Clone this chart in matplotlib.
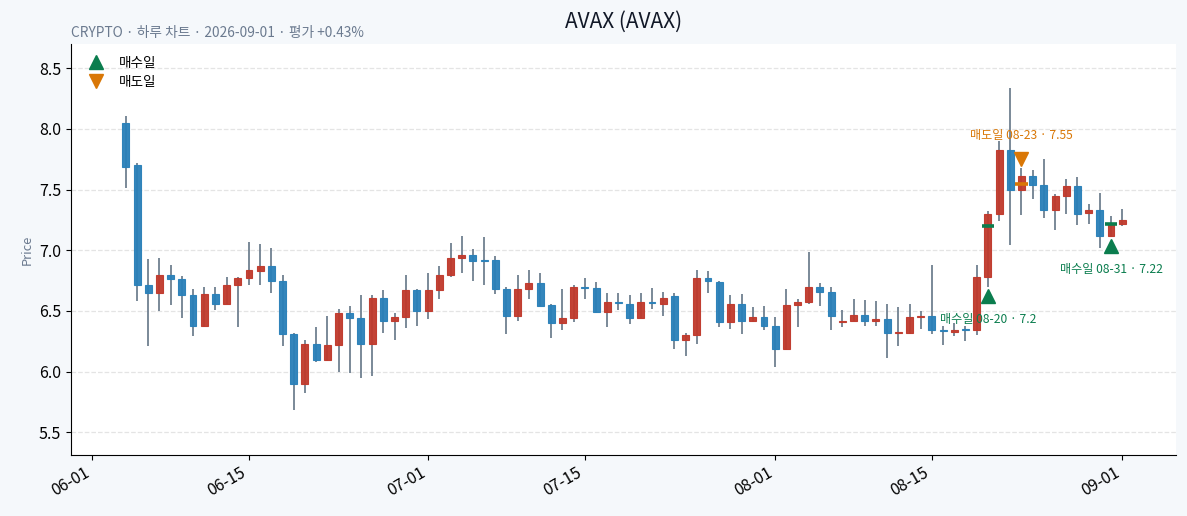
import matplotlib.pyplot as plt
import matplotlib.dates as mdates
from matplotlib.patches import Rectangle
import numpy as np
import pandas as pd

plt.rcParams['font.family'] = ['Noto Sans CJK KR', 'DejaVu Sans']

# daily OHLC, 2026-06-04 .. 2026-09-01
dates = pd.date_range('2026-06-04', '2026-09-01', freq='D')
opens = [8.05, 7.70, 6.71, 6.65, 6.80, 6.76, 6.63, 6.38, 6.64, 6.56,
         6.71, 6.77, 6.83, 6.87, 6.75, 6.31, 5.90, 6.23, 6.10, 6.22,
         6.48, 6.44, 6.23, 6.61, 6.42, 6.45, 6.67, 6.50, 6.67, 6.80,
         6.94, 6.96, 6.92, 6.92, 6.68, 6.46, 6.68, 6.73, 6.55, 6.40,
         6.44, 6.70, 6.69, 6.49, 6.575, 6.56, 6.44, 6.57, 6.56, 6.62,
         6.26, 6.30, 6.77, 6.74, 6.41, 6.56, 6.42, 6.45, 6.38, 6.19,
         6.55, 6.57, 6.70, 6.66, 6.41, 6.42, 6.47, 6.42, 6.43, 6.315,
         6.32, 6.45, 6.46, 6.34, 6.33, 6.345, 6.34, 6.78, 7.30, 7.83,
         7.50, 7.61, 7.54, 7.33, 7.45, 7.53, 7.305, 7.33, 7.12, 7.22]
highs = [8.11, 7.72, 6.93, 6.94, 6.88, 6.79, 6.68, 6.70, 6.70, 6.78,
         6.78, 7.07, 7.05, 7.02, 6.80, 6.32, 6.26, 6.37, 6.46, 6.52,
         6.54, 6.63, 6.63, 6.67, 6.48, 6.80, 6.68, 6.81, 6.87, 7.06,
         7.12, 7.01, 7.11, 6.95, 6.70, 6.80, 6.84, 6.81, 6.56, 6.68,
         6.71, 6.77, 6.74, 6.65, 6.65, 6.63, 6.65, 6.69, 6.66, 6.65,
         6.32, 6.84, 6.83, 6.75, 6.63, 6.64, 6.53, 6.54, 6.45, 6.68,
         6.60, 6.99, 6.73, 6.70, 6.51, 6.60, 6.59, 6.58, 6.56, 6.53,
         6.56, 6.50, 6.88, 6.38, 6.40, 6.38, 6.88, 7.32, 7.90, 8.34,
         7.68, 7.66, 7.75, 7.46, 7.59, 7.60, 7.38, 7.47, 7.28, 7.34]
lows = [7.51, 6.58, 6.21, 6.50, 6.55, 6.44, 6.29, 6.37, 6.51, 6.56,
        6.37, 6.71, 6.71, 6.65, 6.21, 5.68, 5.82, 6.08, 6.09, 6.00,
        5.99, 5.95, 5.96, 6.32, 6.26, 6.36, 6.38, 6.43, 6.60, 6.78,
        6.81, 6.75, 6.71, 6.64, 6.31, 6.42, 6.60, 6.54, 6.28, 6.34,
        6.41, 6.60, 6.48, 6.37, 6.51, 6.39, 6.44, 6.52, 6.46, 6.19,
        6.13, 6.23, 6.65, 6.37, 6.35, 6.31, 6.41, 6.34, 6.04, 6.18,
        6.37, 6.56, 6.54, 6.34, 6.37, 6.42, 6.38, 6.38, 6.11, 6.21,
        6.31, 6.35, 6.31, 6.22, 6.29, 6.25, 6.30, 6.70, 7.24, 7.04,
        7.29, 7.42, 7.27, 7.17, 7.30, 7.21, 7.22, 7.02, 7.11, 7.20]
closes = [7.69, 6.71, 6.65, 6.80, 6.76, 6.63, 6.38, 6.64, 6.56, 6.71,
          6.77, 6.84, 6.87, 6.75, 6.31, 5.90, 6.23, 6.10, 6.22, 6.48,
          6.44, 6.23, 6.61, 6.42, 6.45, 6.67, 6.50, 6.67, 6.80, 6.94,
          6.96, 6.91, 6.915, 6.68, 6.46, 6.68, 6.73, 6.54, 6.40, 6.44,
          6.70, 6.69, 6.49, 6.57, 6.565, 6.44, 6.57, 6.565, 6.61, 6.26,
          6.30, 6.77, 6.745, 6.41, 6.56, 6.42, 6.45, 6.38, 6.19, 6.55,
          6.57, 6.70, 6.66, 6.46, 6.42, 6.47, 6.42, 6.43, 6.32, 6.325,
          6.45, 6.46, 6.34, 6.335, 6.345, 6.34, 6.78, 7.30, 7.83, 7.50,
          7.61, 7.54, 7.33, 7.45, 7.53, 7.30, 7.33, 7.12, 7.22, 7.25]

buy_dates = ['2026-08-20', '2026-08-31']
buy_prices = [7.2, 7.22]
sell_dates = ['2026-08-23']
sell_prices = [7.55]

UP = '#c0392b'
DOWN = '#2980b9'
WICK = '#708090'
BUY = '#0b7d4e'
SELL = '#d97706'

fig = plt.figure(figsize=(11.87, 5.16), dpi=100, facecolor='#f5f8fb')
ax = fig.add_axes([0.0598, 0.1182, 0.9309, 0.7965])
ax.set_facecolor('white')

x = mdates.date2num(dates)
w = 0.62
for xi, o, h, l, c in zip(x, opens, highs, lows, closes):
    col = UP if c >= o else DOWN
    ax.vlines(xi, l, h, color=WICK, linewidth=1.3, zorder=2)
    bottom = min(o, c)
    height = max(abs(c - o), 0.008)
    ax.add_patch(Rectangle((xi - w / 2, bottom), w, height, facecolor=col,
                           edgecolor=col, linewidth=0.8, alpha=0.95, zorder=3))

lows_s = pd.Series(lows, index=dates)
highs_s = pd.Series(highs, index=dates)

for d, p in zip(buy_dates, buy_prices):
    xd = mdates.date2num(pd.Timestamp(d))
    ax.hlines(p, xd - 0.55, xd + 0.55, color=BUY, linewidth=2.6, zorder=4)
    ym = lows_s[d] - 0.075
    ax.plot(xd, ym, marker='^', color=BUY, markersize=9.5, linestyle='none', zorder=5)
    ax.annotate(f'매수일 {d[5:]} · {p:g}', (xd, ym), xytext=(0, -17),
                textcoords='offset points', ha='center', va='center',
                fontsize=8.7, color=BUY)

for d, p in zip(sell_dates, sell_prices):
    xd = mdates.date2num(pd.Timestamp(d))
    ax.hlines(p, xd - 0.55, xd + 0.55, color=SELL, linewidth=2.6, zorder=4)
    ym = highs_s[d] + 0.075
    ax.plot(xd, ym, marker='v', color=SELL, markersize=9.5, linestyle='none', zorder=5)
    ax.annotate(f'매도일 {d[5:]} · {p:g}', (xd, ym), xytext=(0, 17),
                textcoords='offset points', ha='center', va='center',
                fontsize=8.7, color=SELL)

# legend handles
ax.plot([], [], marker='^', color=BUY, markersize=9.5, linestyle='none', label='매수일')
ax.plot([], [], marker='v', color=SELL, markersize=9.5, linestyle='none', label='매도일')
ax.legend(loc='upper left', frameon=False, fontsize=9.8, handletextpad=0.7,
          borderaxespad=0.45, labelspacing=0.38)

ax.set_xlim(mdates.date2num(pd.Timestamp('2026-06-01')) - 1.9,
            mdates.date2num(pd.Timestamp('2026-09-01')) + 4.8)
ax.set_ylim(5.313, 8.70)
ax.set_yticks([5.5, 6.0, 6.5, 7.0, 7.5, 8.0, 8.5])
ax.yaxis.set_major_formatter(plt.FormatStrFormatter('%.1f'))

ticks = pd.to_datetime(['2026-06-01', '2026-06-15', '2026-07-01', '2026-07-15',
                        '2026-08-01', '2026-08-15', '2026-09-01'])
ax.set_xticks(mdates.date2num(ticks))
ax.xaxis.set_major_formatter(mdates.DateFormatter('%m-%d'))
plt.setp(ax.get_xticklabels(), rotation=30, ha='right')
ax.tick_params(labelsize=11.5)

ax.grid(axis='y', linestyle='--', color='#e4e4e4', linewidth=0.9)
ax.set_axisbelow(True)
for s in ['top', 'right']:
    ax.spines[s].set_visible(False)

ax.set_ylabel('Price', fontsize=9.3, color='#6b7a8f')
fig.text(0.525, 0.958, 'AVAX (AVAX)', ha='center', va='center',
         fontsize=15, fontweight='medium', color='#111827')
fig.text(0.0598, 0.937, 'CRYPTO · 하루 차트 · 2026-09-01 · 평가 +0.43%',
         ha='left', va='center', fontsize=9.9, color='#6b7a8f')

fig.savefig('out.png', dpi=100, facecolor=fig.get_facecolor())
